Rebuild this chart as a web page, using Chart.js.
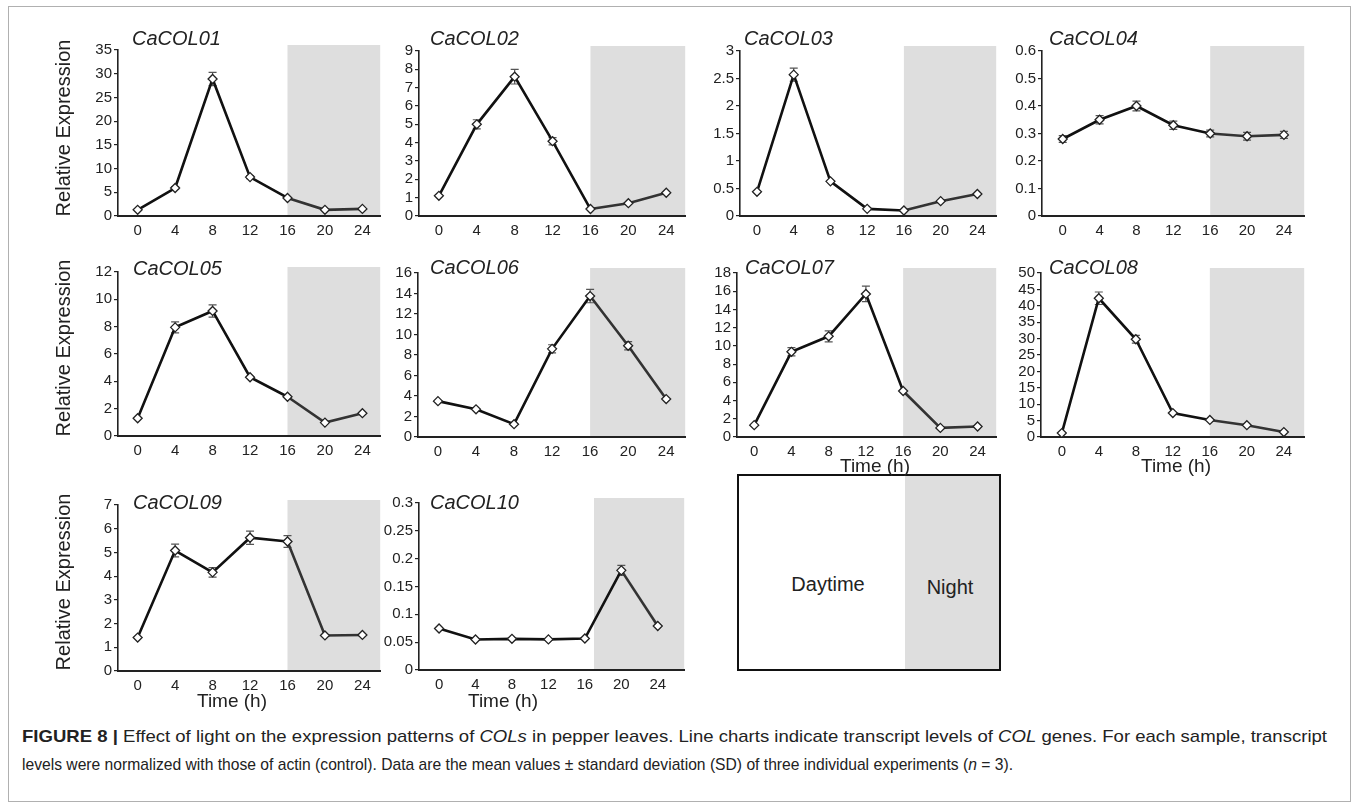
<!DOCTYPE html>
<html>
<head>
<meta charset="utf-8">
<script src="https://cdn.jsdelivr.net/npm/chart.js@4.4.1/dist/chart.umd.min.js"></script>
<style>
  html, body { margin:0; padding:0; background:#fff; }
  body { width:1360px; height:810px; position:relative; overflow:hidden; font-family:"Liberation Sans", Arial, sans-serif; color:#222; }
  .frame { position:absolute; left:8px; top:6px; width:1343px; height:796px; border:1px solid #b0b0b0; box-sizing:border-box; }
  canvas { position:absolute; }
  .title { position:absolute; font-style:italic; font-size:20px; line-height:20px; white-space:nowrap; color:#222; transform:translateY(-50%); }
  .ylab { position:absolute; font-size:20px; white-space:nowrap; transform:translate(-50%,-50%) rotate(-90deg); color:#222; }
  .xlab { position:absolute; font-size:19px; line-height:19px; white-space:nowrap; transform:translate(-50%,-50%); color:#222; z-index:5; }
  .legend { position:absolute; left:737px; top:474px; width:264px; height:197px; border:2px solid #111; box-sizing:border-box; background:#fff; z-index:1; }
  .legend .night { position:absolute; left:166px; top:0; right:0; bottom:0; background:#dedede; }
  .legend span { position:absolute; font-size:20px; transform:translate(-50%,-50%); white-space:nowrap; color:#222; }
  .cap { position:absolute; left:22px; font-size:17px; white-space:nowrap; transform-origin:left center; color:#222; }
  .cap b { font-weight:bold; }
</style>
</head>
<body>
<div class="frame"></div>

<script>
// ---------- data ----------
const times = [0, 4, 8, 12, 16, 20, 24];
const genes = ['CaCOL01','CaCOL02','CaCOL03','CaCOL04','CaCOL05','CaCOL06','CaCOL07','CaCOL08','CaCOL09','CaCOL10'];

const col01 = [1.3, 5.9, 28.9, 8.2, 3.8, 1.3, 1.5];
const err01 = [0, 0.3, 1.4, 0.3, 0, 0, 0];
const col02 = [1.1, 5.0, 7.6, 4.08, 0.38, 0.7, 1.27];
const err02 = [0, 0.25, 0.4, 0.2, 0, 0, 0];
const col03 = [0.44, 2.57, 0.63, 0.13, 0.1, 0.27, 0.4];
const err03 = [0, 0.12, 0, 0, 0, 0, 0];
const col04 = [0.28, 0.35, 0.40, 0.33, 0.30, 0.29, 0.295];
const err04 = [0.012, 0.015, 0.018, 0.015, 0.012, 0.014, 0.013];
const col05 = [1.3, 7.95, 9.15, 4.3, 2.87, 0.98, 1.67];
const err05 = [0, 0.4, 0.45, 0, 0, 0, 0];
const col06 = [3.5, 2.7, 1.25, 8.6, 13.75, 8.9, 3.7];
const err06 = [0, 0, 0, 0.4, 0.65, 0.4, 0];
const col07 = [1.3, 9.35, 11.05, 15.7, 5.05, 1.0, 1.15];
const err07 = [0, 0.45, 0.6, 0.85, 0, 0, 0];
const col08 = [1.2, 42.3, 29.8, 7.3, 5.2, 3.6, 1.5];
const err08 = [0, 1.9, 1.2, 0, 0, 0, 0];
const col09 = [1.41, 5.08, 4.16, 5.62, 5.46, 1.5, 1.52];
const err09 = [0, 0.27, 0.2, 0.28, 0.25, 0, 0];
const col10 = [0.0745, 0.0548, 0.056, 0.055, 0.0566, 0.179, 0.079];
const err10 = [0, 0, 0, 0, 0, 0.009, 0];

const series = [col01, col02, col03, col04, col05, col06, col07, col08, col09, col10];
const errors = [err01, err02, err03, err04, err05, err06, err07, err08, err09, err10];

const yMaxes = [35, 9, 3, 0.6, 12, 16, 18, 50, 7, 0.3];
const ySteps = [5, 1, 0.5, 0.1, 2, 2, 2, 5, 1, 0.05];
const nightStart = [16, 16, 16, 16, 16, 16, 16, 16, 16, 17];
const xRanges = [[-2.1, 25.9], [-2.1, 26], [-1.85, 26.05], [-2.25, 26.2], [-2.1, 25.9], [-2.1, 26], [-1.85, 26], [-2.25, 26.2], [-2.1, 25.9], [-2.2, 26.9]];

// ---------- layout (plot area pixel boxes: left, right, top, bottom) ----------
const boxes = [
  [118, 381, 49, 216], [419, 686, 50, 216], [740, 997, 50, 216], [1042, 1305, 50, 216],
  [118, 381, 271, 436], [418, 686, 272, 437], [737, 997, 272, 437], [1041, 1305, 272, 437],
  [118, 381, 504, 671], [419, 685, 502, 670]
];
const titlePos = [
  [132, 38], [430, 38], [744, 38], [1049, 38],
  [133, 268], [430, 267], [745, 267], [1049, 267],
  [133, 502], [430, 502]
];

const YW = 60, PT = 10, PR = 5, XH = 30;
const tickFont = { family: '"Liberation Sans", Arial, sans-serif', size: 15 };

const nightPlugin = {
  id: 'night',
  beforeDraw(chart, args, opts) {
    const { ctx, chartArea, scales } = chart;
    const x0 = scales.x.getPixelForValue(opts.start);
    ctx.save();
    ctx.fillStyle = '#dedede';
    ctx.fillRect(x0, chartArea.top - 5, chartArea.right - x0, chartArea.bottom - chartArea.top + 5);
    ctx.restore();
  }
};

const errPlugin = {
  id: 'errbars',
  beforeDatasetsDraw(chart, args, opts) {
    const { ctx, scales } = chart;
    const ds = chart.data.datasets[0].data;
    ctx.save();
    ctx.strokeStyle = '#555';
    ctx.lineWidth = 1.2;
    opts.err.forEach((e, i) => {
      if (!e) return;
      const x = scales.x.getPixelForValue(ds[i].x);
      const yt = scales.y.getPixelForValue(ds[i].y + e);
      const yb = scales.y.getPixelForValue(ds[i].y - e);
      ctx.beginPath();
      ctx.moveTo(x, yt); ctx.lineTo(x, yb);
      ctx.moveTo(x - 4, yt); ctx.lineTo(x + 4, yt);
      ctx.moveTo(x - 4, yb); ctx.lineTo(x + 4, yb);
      ctx.stroke();
    });
    ctx.restore();
  }
};

function fmt(v) { return String(+Number(v).toFixed(3)); }

series.forEach((vals, k) => {
  const [l, r, t, b] = boxes[k];
  const cv = document.createElement('canvas');
  const w = r - l + YW + PR, h = b - t + PT + XH;
  cv.width = w; cv.height = h;
  cv.style.left = (l - YW) + 'px';
  cv.style.top = (t - PT) + 'px';
  cv.style.width = w + 'px'; cv.style.height = h + 'px';
  document.body.appendChild(cv);
  const night = nightStart[k];

  new Chart(cv, {
    type: 'line',
    data: {
      datasets: [{
        data: times.map((tt, i) => ({ x: tt, y: vals[i] })),
        borderColor: '#111',
        borderWidth: 2.6,
        tension: 0,
        pointStyle: 'rectRot',
        pointRadius: 4.5,
        pointBackgroundColor: '#fff',
        pointBorderColor: '#222',
        pointBorderWidth: 1.3,
        segment: { borderColor: c => (c.p0.parsed.x >= night ? '#333' : '#111') }
      }]
    },
    options: {
      responsive: false,
      animation: false,
      events: [],
      layout: { padding: { left: 0, top: PT, right: PR, bottom: 0 } },
      plugins: {
        legend: { display: false },
        tooltip: { enabled: false },
        night: { start: night },
        errbars: { err: errors[k] }
      },
      scales: {
        x: {
          type: 'linear',
          min: xRanges[k][0], max: xRanges[k][1],
          afterBuildTicks: ax => { ax.ticks = times.map(v => ({ value: v })); },
          afterFit: ax => { ax.height = XH; },
          grid: { display: false, drawTicks: false },
          border: { display: true, color: '#222', width: 2 },
          ticks: { font: tickFont, color: '#222', padding: 6, maxRotation: 0, autoSkip: false, callback: v => fmt(v) }
        },
        y: {
          min: 0, max: yMaxes[k],
          afterFit: ax => { ax.width = YW; },
          grid: { display: true, drawOnChartArea: false, drawTicks: true, tickLength: 4, color: '#222', lineWidth: 1.2 },
          border: { display: true, color: '#222', width: 1.6 },
          ticks: { stepSize: ySteps[k], autoSkip: false, font: tickFont, color: '#222', padding: 2, callback: v => fmt(v) }
        }
      }
    },
    plugins: [nightPlugin, errPlugin]
  });

  const tdiv = document.createElement('div');
  tdiv.className = 'title';
  tdiv.textContent = genes[k];
  tdiv.style.left = titlePos[k][0] + 'px';
  tdiv.style.top = titlePos[k][1] + 'px';
  document.body.appendChild(tdiv);
});

// axis titles
[[63, 128], [63, 348], [63, 582]].forEach(([x, y]) => {
  const d = document.createElement('div');
  d.className = 'ylab'; d.textContent = 'Relative Expression';
  d.style.left = x + 'px'; d.style.top = y + 'px';
  document.body.appendChild(d);
});
[[875, 465], [1176, 465], [232, 700], [503, 700]].forEach(([x, y]) => {
  const d = document.createElement('div');
  d.className = 'xlab'; d.textContent = 'Time (h)';
  d.style.left = x + 'px'; d.style.top = y + 'px';
  document.body.appendChild(d);
});
</script>

<div class="legend">
  <div class="night"></div>
  <span style="left:89px; top:108px;">Daytime</span>
  <span style="left:211px; top:111px;">Night</span>
</div>

<div class="cap" id="cap1" style="top:727px;"><b>FIGURE 8 |</b> Effect of light on the expression patterns of <i>COLs</i> in pepper leaves. Line charts indicate transcript levels of <i>COL</i> genes. For each sample, transcript</div>
<div class="cap" id="cap2" style="top:755px;">levels were normalized with those of actin (control). Data are the mean values ± standard deviation (SD) of three individual experiments (<i>n</i> = 3).</div>
<script>
  [['cap1', 1305], ['cap2', 991]].forEach(([id, target]) => {
    const el = document.getElementById(id);
    const w = el.getBoundingClientRect().width;
    el.style.transform = 'scaleX(' + (target / w).toFixed(4) + ')';
  });
</script>
</body>
</html>
